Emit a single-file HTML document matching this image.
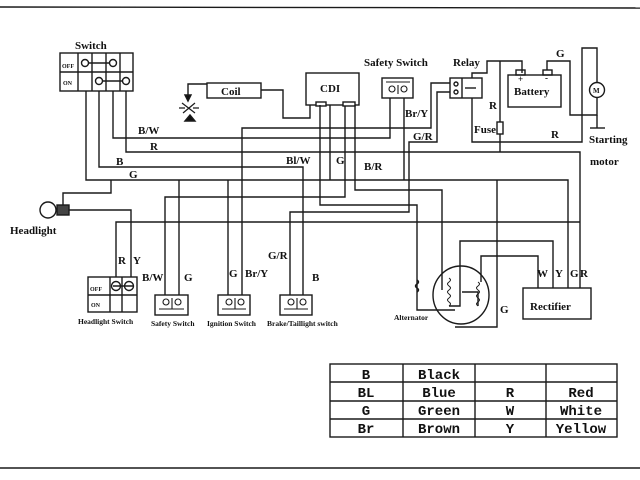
<!DOCTYPE html>
<html><head><meta charset="utf-8"><style>
html,body{margin:0;padding:0;background:#fff;}
svg{display:block;}
text{font-family:"Liberation Serif",serif;fill:#111;font-weight:bold;}
</style></head><body>
<svg width="640" height="480" viewBox="0 0 640 480" xmlns="http://www.w3.org/2000/svg">
<g stroke="#1a1a1a" stroke-width="1.4" fill="none">
<line x1="0" y1="7" x2="640" y2="8"/>
<line x1="0" y1="468" x2="640" y2="468"/>
<!-- main switch -->
<rect x="60" y="53" width="73" height="38"/>
<line x1="60" y1="72" x2="133" y2="72"/>
<line x1="78" y1="53" x2="78" y2="91"/><line x1="92" y1="53" x2="92" y2="91"/>
<line x1="106" y1="53" x2="106" y2="91"/><line x1="120" y1="53" x2="120" y2="91"/>
<circle cx="85" cy="63" r="3.5"/><circle cx="113" cy="63" r="3.5"/><line x1="88" y1="63" x2="110" y2="63"/>
<circle cx="99" cy="81" r="3.5"/><circle cx="126" cy="81" r="3.5"/><line x1="102" y1="81" x2="123" y2="81"/>
<!-- switch wires -->
<polyline points="113,91 113,138 390,138 390,98"/>
<polyline points="126,91 126,152 580,152 580,288"/>
<polyline points="99,91 99,167 303,167 303,295"/>
<polyline points="86,91 86,180 568,180 568,288"/>
<!-- headlight -->
<circle cx="48" cy="210" r="8"/>
<rect x="57" y="205" width="12" height="10" fill="#444"/>
<polyline points="63,205 63,193 111,193 111,180"/>
<polyline points="69,210 131,210 131,277"/>
<polyline points="116,277 116,222 580,222"/>
<!-- headlight switch -->
<rect x="88" y="277" width="49" height="35"/>
<line x1="88" y1="295" x2="137" y2="295"/>
<line x1="110" y1="277" x2="110" y2="312"/><line x1="122" y1="277" x2="122" y2="312"/>
<circle cx="116" cy="286" r="4.5"/><circle cx="129" cy="286" r="4.5"/><line x1="113" y1="286" x2="133" y2="286"/>
<!-- lower switches -->
<rect x="155" y="295" width="33" height="20"/>
<rect x="218" y="295" width="32" height="20"/>
<rect x="280" y="295" width="32" height="20"/>
<g stroke-width="1.1">
<circle cx="166" cy="302" r="3"/><circle cx="178" cy="302" r="3"/><line x1="172" y1="298" x2="172" y2="309"/><line x1="159" y1="309" x2="184" y2="309"/>
<circle cx="229" cy="302" r="3"/><circle cx="241" cy="302" r="3"/><line x1="235" y1="298" x2="235" y2="309"/><line x1="222" y1="309" x2="246" y2="309"/>
<circle cx="291" cy="302" r="3"/><circle cx="303" cy="302" r="3"/><line x1="297" y1="298" x2="297" y2="309"/><line x1="284" y1="309" x2="308" y2="309"/>
</g>
<polyline points="165,295 165,197 345,197 345,105"/>
<line x1="179" y1="295" x2="179" y2="180"/>
<line x1="228" y1="295" x2="228" y2="180"/>
<polyline points="242,295 242,128 431,128 431,83 450,83"/>
<polyline points="290,295 290,212 409,212 409,142 437,142 437,92 450,92"/>
<!-- coil and spark -->
<rect x="207" y="83" width="54" height="15"/>
<polyline points="261,90 283,90 283,118 310,118 310,105"/>
<polyline points="207,84 188,84 188,96"/>
<path d="M185,95 L188,101 L191,95 Z" fill="#111"/>
<path d="M182,103 L195,113 M195,103 L183,113 M179,108 L185,108 M193,108 L199,108" stroke-width="1.2"/>
<path d="M185,121 L190,115 L195,121 Z" fill="#111"/>
<!-- CDI -->
<rect x="306" y="73" width="53" height="32"/>
<rect x="316" y="102" width="10" height="4" fill="#fff"/>
<rect x="343" y="102" width="12" height="4" fill="#fff"/>
<polyline points="320,105 320,205 417,205 417,310 455,310"/>
<path d="M417,280 q3,2 0,4 q-3,2 0,4 q3,2 0,4" />
<line x1="330" y1="105" x2="330" y2="180"/>
<polyline points="355,105 355,190 442,190 442,290"/>
<!-- safety switch top -->
<rect x="382" y="78" width="31" height="20"/>
<g stroke-width="1.1"><circle cx="392" cy="89" r="3"/><circle cx="404" cy="89" r="3"/><line x1="398" y1="85" x2="398" y2="94"/><line x1="386" y1="82" x2="410" y2="82"/></g>
<line x1="404" y1="98" x2="404" y2="180"/>
<!-- relay -->
<rect x="450" y="78" width="32" height="20"/>
<line x1="462" y1="78" x2="462" y2="98"/>
<circle cx="456" cy="84" r="2"/><circle cx="456" cy="92" r="2"/><line x1="465" y1="88" x2="476" y2="88"/>
<polyline points="472,78 472,73 487,73 487,61 522,61 522,73"/>
<line x1="500" y1="61" x2="500" y2="152"/>
<rect x="497" y="122" width="6" height="12" fill="#fff"/>
<polyline points="472,98 472,142 582,142 582,48 597,48 597,82"/>
<!-- battery -->
<rect x="508" y="75" width="53" height="32"/>
<rect x="516" y="70" width="9" height="5"/><rect x="543" y="70" width="9" height="5"/>
<polyline points="547,70 547,61 570,61 570,115 597,115 597,98"/>
<line x1="597" y1="115" x2="597" y2="128"/><line x1="590" y1="128" x2="605" y2="128"/>
<circle cx="597" cy="90" r="7.5"/>
<!-- alternator -->
<ellipse cx="461" cy="295" rx="28" ry="29"/>
<path d="M449,278 q3,2 0,4 q-3,2 0,4 q3,2 0,4 q-3,2 0,4 q3,2 0,4 q-3,2 0,4 q3,2 0,4" stroke-width="1"/>
<path d="M478,282 q3,2 0,4 q-3,2 0,4 q3,2 0,4 q-3,2 0,4 q3,2 0,4 q-3,2 0,4" stroke-width="1"/>
<polyline points="449,306 460,306 460,241 553,241 553,288"/>
<polyline points="478,306 478,292 462,292"/>
<polyline points="481,282 481,256 538,256 538,288"/>
<polyline points="497,180 497,327 455,327"/>
<!-- rectifier -->
<rect x="523" y="288" width="68" height="31"/>
<!-- table -->
<rect x="330" y="364" width="287" height="73"/>
<line x1="330" y1="382" x2="617" y2="382"/><line x1="330" y1="401" x2="617" y2="401"/><line x1="330" y1="419" x2="617" y2="419"/>
<line x1="403" y1="364" x2="403" y2="437"/><line x1="475" y1="364" x2="475" y2="437"/><line x1="546" y1="364" x2="546" y2="437"/>
</g>
<g font-size="11">
<text x="75" y="49">Switch</text>
<text x="364" y="66">Safety Switch</text>
<text x="453" y="66">Relay</text>
<text x="556" y="57">G</text>
<text x="221" y="95">Coil</text>
<text x="320" y="92">CDI</text>
<text x="514" y="95">Battery</text>
<text x="518" y="82" font-size="9">+</text><text x="545" y="81" font-size="9">-</text>
<text x="593" y="93" font-size="7">M</text>
<text x="138" y="134">B/W</text>
<text x="150" y="150">R</text>
<text x="116" y="165">B</text>
<text x="129" y="178">G</text>
<text x="286" y="164">Bl/W</text>
<text x="336" y="164">G</text>
<text x="364" y="170">B/R</text>
<text x="405" y="117">Br/Y</text>
<text x="413" y="140">G/R</text>
<text x="489" y="109">R</text>
<text x="474" y="133">Fuse</text>
<text x="551" y="138">R</text>
<text x="589" y="143">Starting</text>
<text x="590" y="165">motor</text>
<text x="10" y="234">Headlight</text>
<text x="118" y="264">R</text><text x="133" y="264">Y</text>
<text x="142" y="281">B/W</text><text x="184" y="281">G</text>
<text x="229" y="277">G</text><text x="245" y="277">Br/Y</text>
<text x="268" y="259">G/R</text><text x="312" y="281">B</text>
<text x="500" y="313">G</text>
<text x="537" y="277">W</text><text x="555" y="277">Y</text><text x="570" y="277">G</text><text x="580" y="277">R</text>
<text x="530" y="310">Rectifier</text>
</g>
<g font-size="7.5">
<text x="62" y="68" font-size="6">OFF</text><text x="63" y="85" font-size="6">ON</text>
<text x="90" y="291" font-size="6">OFF</text><text x="91" y="307" font-size="6">ON</text>
<text x="78" y="324">Headlight Switch</text>
<text x="151" y="326">Safety Switch</text>
<text x="207" y="326">Ignition Switch</text>
<text x="267" y="326">Brake/Taillight switch</text>
<text x="394" y="320">Alternator</text>
</g>
<g font-family="Liberation Mono" font-size="14" text-anchor="middle" style="font-weight:normal">
<text x="366" y="379" style="font-family:'Liberation Mono',monospace">B</text>
<text x="439" y="379" style="font-family:'Liberation Mono',monospace">Black</text>
<text x="366" y="397" style="font-family:'Liberation Mono',monospace">BL</text>
<text x="439" y="397" style="font-family:'Liberation Mono',monospace">Blue</text>
<text x="510" y="397" style="font-family:'Liberation Mono',monospace">R</text>
<text x="581" y="397" style="font-family:'Liberation Mono',monospace">Red</text>
<text x="366" y="415" style="font-family:'Liberation Mono',monospace">G</text>
<text x="439" y="415" style="font-family:'Liberation Mono',monospace">Green</text>
<text x="510" y="415" style="font-family:'Liberation Mono',monospace">W</text>
<text x="581" y="415" style="font-family:'Liberation Mono',monospace">White</text>
<text x="366" y="433" style="font-family:'Liberation Mono',monospace">Br</text>
<text x="439" y="433" style="font-family:'Liberation Mono',monospace">Brown</text>
<text x="510" y="433" style="font-family:'Liberation Mono',monospace">Y</text>
<text x="581" y="433" style="font-family:'Liberation Mono',monospace">Yellow</text>
</g>
</svg>
</body></html>
